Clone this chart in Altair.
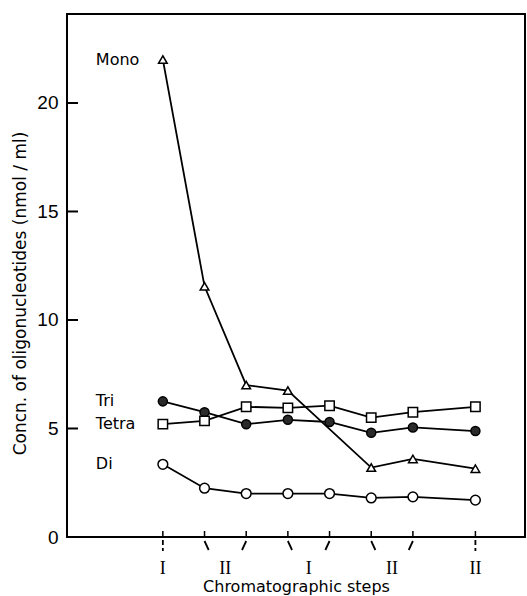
import altair as alt
import pandas as pd

# Concentration of oligonucleotides after each chromatographic step (nmol/ml)
steps = [0, 1, 2, 3, 4, 5, 6, 7.5]
mono = [22.0, 11.55, 7.0, 6.75, None, 3.2, 3.6, 3.15]
tri = [6.25, 5.75, 5.2, 5.4, 5.3, 4.8, 5.05, 4.88]
tetra = [5.2, 5.35, 6.0, 5.95, 6.05, 5.5, 5.75, 6.0]
di = [3.35, 2.25, 2.0, 2.0, 2.0, 1.8, 1.85, 1.7]

series_names = ["Mono", "Tri", "Tetra", "Di"]
series_shapes = ["triangle-up", "circle", "square", "circle"]
series_fills = ["white", "#2a2a2a", "white", "white"]
series_sizes = [75, 95, 115, 105]

y_ticks = [0, 5, 10, 15, 20]
step_group_labels = ["I", "II", "I", "II", "II"]
step_group_members = [[0], [1, 2], [3, 4], [5, 6], [7.5]]

W, H = 458, 523
FONT = "DejaVu Sans"

rows = []
for name, vals in zip(series_names, [mono, tri, tetra, di]):
    for s, v in zip(steps, vals):
        if v is not None:
            rows.append({"series": name, "step": s, "value": v})
df = pd.DataFrame(rows)

x_scale = alt.Scale(domain=[-2.3, 8.69], nice=False, zero=False)
y_scale = alt.Scale(domain=[0, 24.1], nice=False)

x_enc = alt.X(
    "step:Q", scale=x_scale,
    axis=alt.Axis(title="Chromatographic steps", labels=False, ticks=False,
                  domain=False, grid=False, titleFont=FONT, titleFontSize=16,
                  titleFontWeight="normal", titleColor="black",
                  titlePadding=41, titleBaseline="top"),
)
y_enc = alt.Y(
    "value:Q", scale=y_scale,
    axis=alt.Axis(title="Concn. of oligonucleotides (nmol / ml)", values=y_ticks,
                  ticks=False, domain=False, grid=False, labelFont="Liberation Sans",
                  labelFontSize=19, labelColor="black", labelPadding=9,
                  titleFont=FONT, titleFontSize=17, titleFontWeight="normal",
                  titleColor="black", titleAngle=270, titleAlign="center",
                  titleBaseline="middle", titleX=-47, titleY=279),
)

shape_enc = alt.Shape("series:N", scale=alt.Scale(domain=series_names, range=series_shapes), legend=None)
fill_enc = alt.Fill("series:N", scale=alt.Scale(domain=series_names, range=series_fills), legend=None)
size_enc = alt.Size("series:N", scale=alt.Scale(domain=series_names, range=series_sizes), legend=None)

base = alt.Chart(df)

lines = base.mark_line(color="black", strokeWidth=1.8).encode(
    x=x_enc, y=y_enc, detail="series:N", order="step:Q"
)
points = base.mark_point(filled=True, stroke="black", strokeWidth=1.5, opacity=1).encode(
    x=x_enc, y=y_enc, shape=shape_enc, fill=fill_enc, size=size_enc
)
series_labels = base.mark_text(
    align="left", baseline="middle", dx=-67, font=FONT, fontSize=16, color="black"
).transform_filter(alt.datum.step == 0).encode(
    x=x_enc, y=y_enc, text="series:N"
)

# inward tick marks on both axes
ytick_df = pd.DataFrame({"value": y_ticks[1:]})
ytick_rules = alt.Chart(ytick_df).mark_rule(color="black", strokeWidth=2).encode(
    y=y_enc, x=alt.value(0), x2=alt.value(11)
)
xtick_df = pd.DataFrame({"step": steps})
xtick_rules = alt.Chart(xtick_df).mark_rule(color="black", strokeWidth=1.5).encode(
    x=x_enc, y=alt.value(H), y2=alt.value(H - 6)
)

# step groups: connectors below the axis and roman numeral labels
single_rows, pair_rows, label_rows = [], [], []
for label, members in zip(step_group_labels, step_group_members):
    center = sum(members) / len(members)
    label_rows.append({"step": center, "label": label})
    for m in members:
        if len(members) == 1:
            single_rows.append({"step": m})
        else:
            pair_rows.append({"step": m, "step2": m + (center - m) * 0.2})

single_conn = alt.Chart(pd.DataFrame(single_rows)).mark_rule(
    color="black", strokeWidth=1.8, strokeDash=[5, 3], clip=False
).encode(x=x_enc, y=alt.value(H + 3), y2=alt.value(H + 14))
pair_conn = alt.Chart(pd.DataFrame(pair_rows)).mark_rule(
    color="black", strokeWidth=1.8, clip=False
).encode(x=x_enc, x2="step2:Q", y=alt.value(H + 4), y2=alt.value(H + 13))
group_text = alt.Chart(pd.DataFrame(label_rows)).mark_text(
    font="Liberation Serif", fontSize=18, baseline="middle", color="black"
).encode(x=x_enc, y=alt.value(H + 32), text="label:N")

chart = alt.layer(
    lines, points, series_labels, ytick_rules, xtick_rules,
    single_conn, pair_conn, group_text
).properties(
    width=W, height=H,
    autosize=alt.AutoSizeParams(type="none"),
    padding={"left": 67, "top": 14, "right": 2, "bottom": 59},
    background="white",
).configure_view(stroke="black", strokeWidth=2)

chart.save("out.html", embed_options={"renderer": "svg", "actions": False})
